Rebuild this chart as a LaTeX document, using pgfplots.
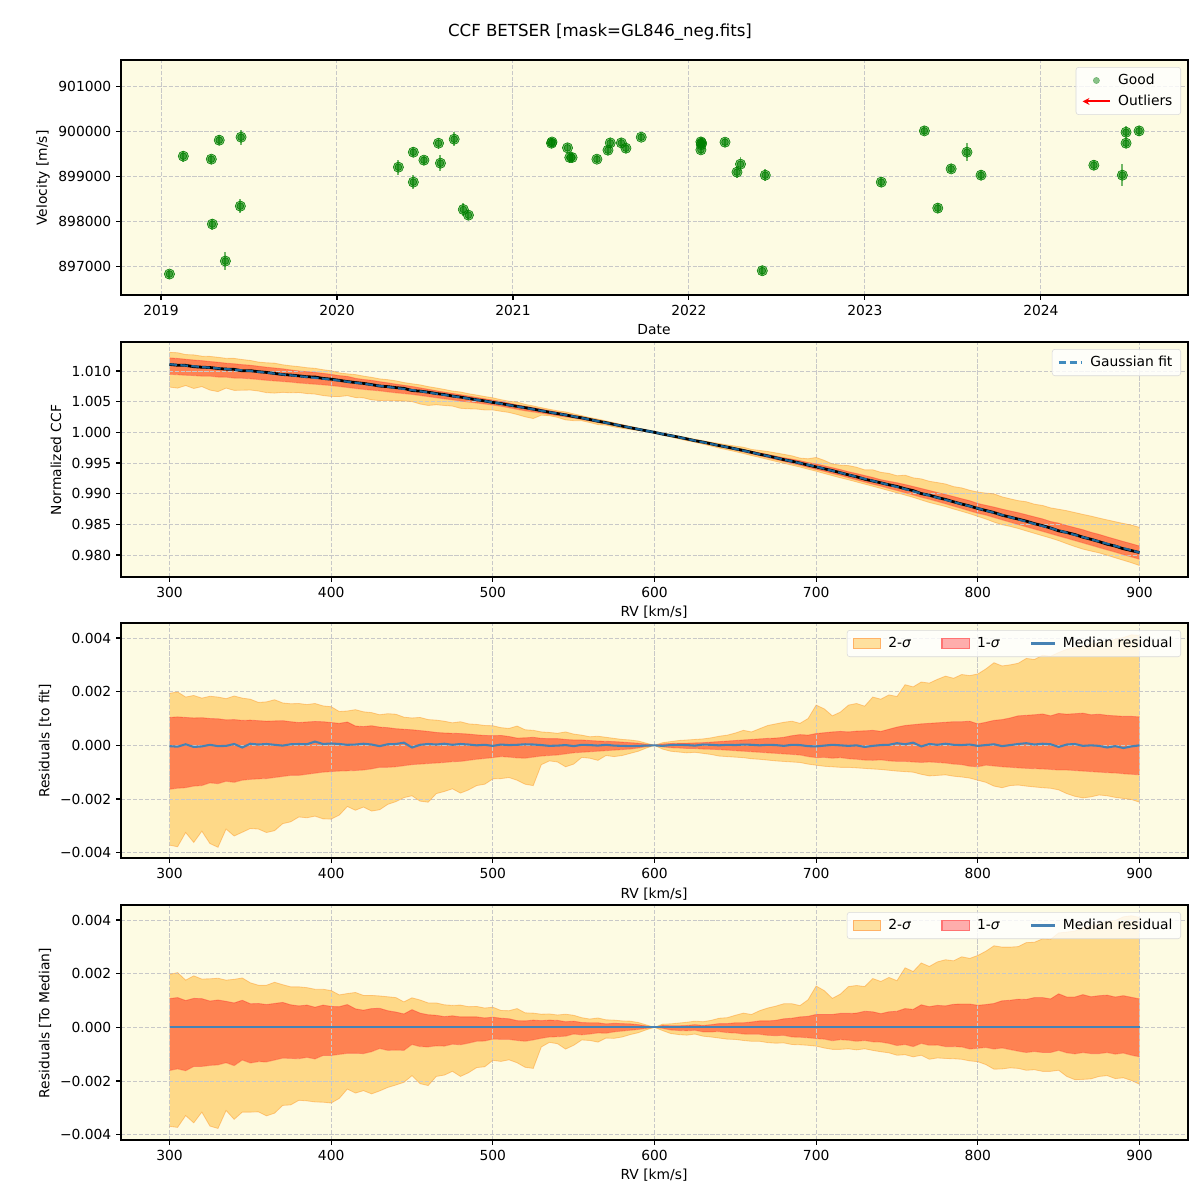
\documentclass[border=0pt]{standalone}
\usepackage{fontspec}
\setmainfont{DejaVu Sans}
\usepackage{pgfplots}
\usepackage{pgfplotstable}
\pgfplotsset{compat=1.18}
\usetikzlibrary{arrows.meta}
\newlength\px \setlength\px{0.01in}
\definecolor{bg}{RGB}{253,251,227}
\definecolor{gridc}{RGB}{200,200,200}
\definecolor{mgreen}{RGB}{0,128,0}
\definecolor{steel}{RGB}{70,130,180}
\definecolor{cblue}{RGB}{31,119,180}
\definecolor{ctwo}{RGB}{254,217,136}
\definecolor{cone}{RGB}{254,130,82}
\definecolor{lgreen}{RGB}{110,180,110}

\pgfplotstableread{
t v e
2019.048 896822 100
2019.127 899444 120
2019.286 899378 100
2019.292 897933 120
2019.331 899800 110
2019.366 897111 200
2019.451 898333 160
2019.455 899867 170
2020.349 899200 170
2020.434 899533 110
2020.434 898867 150
2020.494 899356 100
2020.577 899733 120
2020.588 899289 180
2020.666 899822 160
2020.718 898258 140
2020.747 898133 110
2021.219 899733 100
2021.222 899760 80
2021.310 899630 110
2021.323 899415 100
2021.336 899415 100
2021.477 899378 90
2021.540 899578 100
2021.553 899740 110
2021.616 899740 100
2021.642 899622 100
2021.729 899867 90
2022.068 899762 110
2022.070 899700 100
2022.072 899735 100
2022.068 899585 100
2022.205 899756 100
2022.273 899089 130
2022.293 899267 150
2022.417 896896 100
2022.434 899022 130
2023.093 898867 110
2023.338 900007 100
2023.414 898289 110
2023.490 899162 100
2023.580 899533 200
2023.660 899022 110
2024.301 899244 110
2024.463 899022 250
2024.484 899978 130
2024.484 899733 110
2024.558 900007 110
}\rvdata

\pgfplotstableread{
rv fit hi2 hi1 med lo1 lo2
300 1.01110 1.94 1.04 -0.03 -1.64 -3.72
305 1.01099 1.99 1.06 -0.05 -1.60 -3.78
310 1.01088 1.80 1.04 0.04 -1.58 -3.25
315 1.01077 1.86 1.02 -0.06 -1.52 -3.62
320 1.01066 1.76 1.03 -0.04 -1.50 -3.20
325 1.01055 1.83 1.00 0.02 -1.40 -3.66
330 1.01044 1.80 0.99 -0.03 -1.43 -3.80
335 1.01033 1.74 0.95 -0.02 -1.34 -3.12
340 1.01022 1.84 0.96 0.05 -1.38 -3.38
345 1.01011 1.76 0.93 -0.08 -1.30 -3.24
350 1.01000 1.72 0.94 0.06 -1.27 -3.10
355 1.00986 1.60 0.92 0.03 -1.25 -3.12
360 1.00972 1.62 0.90 0.05 -1.24 -3.25
365 1.00958 1.70 0.91 0.02 -1.20 -3.18
370 1.00944 1.58 0.92 -0.01 -1.16 -2.92
375 1.00930 1.55 0.88 0.04 -1.12 -2.85
380 1.00916 1.56 0.85 0.05 -1.12 -2.67
385 1.00902 1.52 0.87 0.04 -1.08 -2.70
390 1.00888 1.56 0.89 0.14 -1.04 -2.64
395 1.00874 1.47 0.88 0.05 -1.00 -2.74
400 1.00860 1.44 0.85 0.07 -0.98 -2.75
405 1.00843 1.26 0.82 0.05 -0.96 -2.60
410 1.00826 1.28 0.87 0.02 -0.95 -2.28
415 1.00809 1.33 0.72 0.03 -0.94 -2.42
420 1.00792 1.25 0.70 0.06 -0.92 -2.30
425 1.00775 1.22 0.73 0.03 -0.88 -2.45
430 1.00758 1.14 0.68 -0.03 -0.82 -2.40
435 1.00741 1.18 0.66 0.04 -0.82 -2.20
440 1.00724 1.16 0.62 0.05 -0.80 -2.10
445 1.00707 1.05 0.60 0.10 -0.76 -1.95
450 1.00690 1.02 0.58 -0.08 -0.72 -1.88
455 1.00670 1.04 0.55 0.02 -0.70 -2.08
460 1.00650 0.96 0.52 0.05 -0.68 -2.12
465 1.00630 0.94 0.48 0.03 -0.66 -1.80
470 1.00610 0.90 0.46 0.06 -0.64 -1.72
475 1.00590 0.84 0.45 0.02 -0.61 -1.62
480 1.00570 0.88 0.44 0.05 -0.60 -1.78
485 1.00550 0.80 0.42 0.03 -0.56 -1.66
490 1.00530 0.78 0.39 0.00 -0.52 -1.50
495 1.00510 0.74 0.37 0.02 -0.49 -1.45
500 1.00490 0.73 0.36 -0.02 -0.46 -1.25
505 1.00467 0.66 0.37 0.03 -0.42 -1.24
510 1.00444 0.63 0.33 0.01 -0.44 -1.20
515 1.00421 0.72 0.27 0.02 -0.47 -1.30
520 1.00398 0.58 0.28 0.04 -0.48 -1.45
525 1.00375 0.56 0.30 0.03 -0.44 -1.50
530 1.00352 0.50 0.26 0.01 -0.40 -0.72
535 1.00329 0.48 0.25 -0.02 -0.38 -0.58
540 1.00306 0.45 0.25 -0.01 -0.36 -0.62
545 1.00283 0.50 0.22 0.01 -0.32 -0.80
550 1.00260 0.42 0.20 -0.03 -0.28 -0.70
555 1.00234 0.38 0.20 0.02 -0.26 -0.45
560 1.00208 0.32 0.18 0.01 -0.24 -0.48
565 1.00182 0.34 0.16 -0.01 -0.22 -0.56
570 1.00156 0.30 0.15 0.02 -0.20 -0.38
575 1.00130 0.26 0.14 -0.01 -0.18 -0.42
580 1.00104 0.22 0.12 -0.02 -0.16 -0.38
585 1.00078 0.20 0.10 -0.03 -0.14 -0.30
590 1.00052 0.16 0.08 -0.02 -0.10 -0.22
595 1.00026 0.08 0.04 -0.01 -0.05 -0.10
600 1.00000 0.00 0.00 0.00 0.00 0.00
605 0.99973 0.10 0.05 -0.02 -0.06 -0.14
610 0.99946 0.14 0.07 0.01 -0.09 -0.22
615 0.99919 0.18 0.08 0.02 -0.10 -0.25
620 0.99892 0.20 0.08 0.01 -0.12 -0.28
625 0.99865 0.22 0.09 -0.01 -0.12 -0.26
630 0.99838 0.24 0.10 0.03 -0.14 -0.30
635 0.99811 0.28 0.12 0.02 -0.15 -0.34
640 0.99784 0.34 0.14 0.00 -0.16 -0.40
645 0.99757 0.38 0.16 0.02 -0.18 -0.42
650 0.99730 0.46 0.18 0.01 -0.20 -0.44
655 0.99701 0.56 0.20 0.03 -0.22 -0.46
660 0.99672 0.50 0.22 0.02 -0.24 -0.50
665 0.99643 0.62 0.24 0.00 -0.26 -0.52
670 0.99614 0.74 0.26 0.02 -0.28 -0.55
675 0.99585 0.80 0.27 0.01 -0.30 -0.58
680 0.99556 0.86 0.30 -0.02 -0.32 -0.60
685 0.99527 0.90 0.36 0.02 -0.34 -0.62
690 0.99498 0.82 0.40 0.01 -0.36 -0.64
695 0.99469 1.00 0.38 -0.03 -0.42 -0.70
700 0.99440 1.50 0.44 -0.04 -0.46 -0.74
705 0.99407 1.36 0.47 -0.01 -0.45 -0.78
710 0.99374 1.10 0.50 0.02 -0.48 -0.80
715 0.99341 1.24 0.52 0.00 -0.46 -0.82
720 0.99308 1.50 0.50 -0.02 -0.50 -0.82
725 0.99275 1.56 0.53 0.00 -0.52 -0.84
730 0.99242 1.46 0.54 -0.06 -0.55 -0.86
735 0.99209 1.80 0.56 -0.02 -0.56 -0.88
740 0.99176 1.72 0.52 0.01 -0.54 -0.90
745 0.99143 1.88 0.60 0.02 -0.58 -0.93
750 0.99110 1.82 0.68 0.08 -0.60 -0.96
755 0.99075 2.26 0.74 0.04 -0.60 -0.98
760 0.99040 2.18 0.77 0.10 -0.62 -1.00
765 0.99005 2.36 0.80 -0.04 -0.64 -1.08
770 0.98970 2.32 0.82 0.05 -0.62 -1.14
775 0.98935 2.46 0.84 0.02 -0.64 -1.12
780 0.98900 2.58 0.86 0.06 -0.66 -1.10
785 0.98865 2.50 0.88 0.02 -0.70 -1.15
790 0.98830 2.64 0.88 0.01 -0.72 -1.18
795 0.98795 2.60 0.90 0.03 -0.78 -1.22
800 0.98760 2.66 0.80 -0.02 -0.80 -1.30
805 0.98724 2.85 0.86 0.01 -0.74 -1.38
810 0.98688 3.08 0.93 0.04 -0.77 -1.52
815 0.98652 2.96 0.96 -0.03 -0.80 -1.58
820 0.98616 3.00 1.02 0.01 -0.82 -1.50
825 0.98580 3.06 1.10 0.05 -0.84 -1.48
830 0.98544 3.24 1.12 0.08 -0.86 -1.52
835 0.98508 3.20 1.14 0.03 -0.87 -1.55
840 0.98472 3.36 1.17 0.06 -0.88 -1.58
845 0.98436 3.32 1.10 0.04 -0.90 -1.60
850 0.98400 3.46 1.19 -0.06 -0.92 -1.66
855 0.98364 3.58 1.16 0.03 -0.92 -1.80
860 0.98328 3.64 1.18 0.05 -0.94 -1.90
865 0.98292 3.70 1.20 -0.02 -0.96 -1.96
870 0.98256 3.78 1.14 0.00 -0.98 -1.92
875 0.98220 3.82 1.16 -0.02 -1.00 -1.85
880 0.98184 3.88 1.12 -0.08 -1.02 -1.88
885 0.98148 3.95 1.10 -0.03 -1.03 -1.94
890 0.98112 4.02 1.08 -0.10 -1.06 -1.98
895 0.98076 4.12 1.08 -0.04 -1.08 -2.02
900 0.98040 4.10 1.06 0.00 -1.10 -2.12
}\res

\pgfplotsset{
  common/.style={scale only axis, width=1067\px, height=235\px, anchor=north west},
  panel/.style={
    common, scaled ticks=false,
    grid=major, major grid style={gridc, dash pattern=on 3pt off 1.3pt, line width=0.7pt},
    tick align=outside, xtick pos=bottom, ytick pos=left,
    major tick length=3.5pt, tick style={black, line width=0.8pt},
    axis line style={line width=0.8pt},
    tick label style={font=\fontsize{10}{12}\selectfont},
    /pgf/number format/assume math mode=true,
    legend style={font=\fontsize{10}{12}\selectfont, draw=gray!30, rounded corners=2pt,
      fill=white, fill opacity=0.8, text opacity=1, draw opacity=1,
      at={(1,1)}, anchor=north east, xshift=-7\px, yshift=-7\px,
      inner xsep=4pt, inner ysep=3pt, row sep=2pt,
      /tikz/every odd column/.append style={column sep=3pt}},
    legend cell align=left,
  },
  base/.style={common, axis background/.style={fill=bg}, ticks=none,
    axis line style={draw=none}, stack plots=y, xmin=270, xmax=930},
  rvpanel/.style={
    panel, xmin=270, xmax=930,
    xtick={300,400,500,600,700,800,900},
    xticklabels={300,400,500,600,700,800,900},
  },
  respanel/.style={
    rvpanel, ymin=-4.2, ymax=4.56,
    ytick={-4,-2,0,2,4},
    yticklabels={−0.004,−0.002,0.000,0.002,0.004},
    legend columns=3,
    legend style={/tikz/every even column/.append style={column sep=20pt}},
  },
  bandimg/.style 2 args={legend image code/.code={%
      \path[sharp corners, draw=#2, fill=#1, line width=0.8pt] (0pt,-3.5pt) rectangle (20pt,3.5pt);}},
  edge2/.style={orange, opacity=0.35, line width=0.6pt},
  edge1/.style={red, opacity=0.3, line width=0.6pt},
}

\begin{document}
\begin{tikzpicture}
\path[use as bounding box] (0,0) rectangle (1200\px,-1200\px);

% ---------- Panel 1 ----------
\begin{axis}[panel, axis background/.style={fill=bg}, at={(121\px,-60\px)},
  xmin=2018.7727, xmax=2024.836, ymin=896356, ymax=901584,
  xtick={2019,2020,2021,2022,2023,2024},
  xticklabels={2019,2020,2021,2022,2023,2024},
  ytick={897000,898000,899000,900000,901000},
  yticklabels={897000,898000,899000,900000,901000},
]
\addplot[forget plot, only marks, mark=*, mark size=3.7pt, mgreen,
  mark options={fill=mgreen, fill opacity=0.5, draw=none},
  error bars/.cd, y dir=both, y explicit,
  error bar style={mgreen, opacity=0.55, line width=1.4pt}, error mark=none]
  table[x=t, y=v, y error=e]{\rvdata};
\addplot[forget plot, only marks, mark=*, mark size=2.4pt, mgreen,
  mark options={fill=mgreen, fill opacity=0.5, draw=none}]
  table[x=t, y=v]{\rvdata};
\addlegendimage{legend image code/.code={\fill[lgreen] (10pt,0pt) circle (2.2pt);}}
\addlegendentry{Good}
\addlegendimage{legend image code/.code={\draw[red, line width=1.5pt, sharp corners, -{Stealth[length=5pt,width=5pt]}] (20pt,0pt) -- (0pt,0pt);}}
\addlegendentry{Outliers}
\end{axis}

% ---------- Panel 2 ----------
\begin{axis}[base, at={(121\px,-342\px)}, ymin=0.97641, ymax=1.01473]
\addplot[draw=none] table[x=rv, y expr=\thisrow{fit}+\thisrow{lo2}/1000]{\res};
\addplot[fill=ctwo, draw=none] table[x=rv, y expr=(\thisrow{lo1}-\thisrow{lo2})/1000]{\res} \closedcycle;
\addplot[fill=cone, draw=none] table[x=rv, y expr=(\thisrow{hi1}-\thisrow{lo1})/1000]{\res} \closedcycle;
\addplot[fill=ctwo, draw=none] table[x=rv, y expr=(\thisrow{hi2}-\thisrow{hi1})/1000]{\res} \closedcycle;
\end{axis}
\begin{axis}[rvpanel, at={(121\px,-342\px)},
  ymin=0.97641, ymax=1.01473,
  ytick={0.980,0.985,0.990,0.995,1.000,1.005,1.010},
  yticklabels={0.980,0.985,0.990,0.995,1.000,1.005,1.010},
]
\addplot[forget plot, edge2] table[x=rv, y expr=\thisrow{fit}+\thisrow{hi2}/1000]{\res};
\addplot[forget plot, edge2] table[x=rv, y expr=\thisrow{fit}+\thisrow{lo2}/1000]{\res};
\addplot[forget plot, edge1] table[x=rv, y expr=\thisrow{fit}+\thisrow{hi1}/1000]{\res};
\addplot[forget plot, edge1] table[x=rv, y expr=\thisrow{fit}+\thisrow{lo1}/1000]{\res};
\addplot[forget plot, black, line width=2pt] table[x=rv, y expr=\thisrow{fit}+\thisrow{med}/1000]{\res};
\addplot[cblue, line width=1.5pt, dash pattern=on 5.5pt off 2.4pt, draw opacity=0.85] table[x=rv, y=fit]{\res};
\addlegendentry{Gaussian fit}
\end{axis}

% ---------- Panel 3 ----------
\begin{axis}[base, at={(121\px,-623\px)}, ymin=-4.2, ymax=4.56]
\addplot[draw=none] table[x=rv, y=lo2]{\res};
\addplot[fill=ctwo, draw=none] table[x=rv, y expr=\thisrow{lo1}-\thisrow{lo2}]{\res} \closedcycle;
\addplot[fill=cone, draw=none] table[x=rv, y expr=\thisrow{hi1}-\thisrow{lo1}]{\res} \closedcycle;
\addplot[fill=ctwo, draw=none] table[x=rv, y expr=\thisrow{hi2}-\thisrow{hi1}]{\res} \closedcycle;
\end{axis}
\begin{axis}[respanel, at={(121\px,-623\px)}]
\addplot[forget plot, edge2] table[x=rv, y=hi2]{\res};
\addplot[forget plot, edge2] table[x=rv, y=lo2]{\res};
\addplot[forget plot, edge1] table[x=rv, y=hi1]{\res};
\addplot[forget plot, edge1] table[x=rv, y=lo1]{\res};
\addplot[forget plot, steel, line width=1.5pt] table[x=rv, y=med]{\res};
\addlegendimage{bandimg={ctwo}{orange!60}}
\addlegendentry{2-{\itshape σ}}
\addlegendimage{bandimg={red!40}{red!55}}
\addlegendentry{1-{\itshape σ}}
\addlegendimage{steel, line width=1.5pt, sharp corners}
\addlegendentry{Median residual}
\end{axis}

% ---------- Panel 4 ----------
\begin{axis}[base, at={(121\px,-905\px)}, ymin=-4.2, ymax=4.56]
\addplot[draw=none] table[x=rv, y expr=\thisrow{lo2}-\thisrow{med}]{\res};
\addplot[fill=ctwo, draw=none] table[x=rv, y expr=\thisrow{lo1}-\thisrow{lo2}]{\res} \closedcycle;
\addplot[fill=cone, draw=none] table[x=rv, y expr=\thisrow{hi1}-\thisrow{lo1}]{\res} \closedcycle;
\addplot[fill=ctwo, draw=none] table[x=rv, y expr=\thisrow{hi2}-\thisrow{hi1}]{\res} \closedcycle;
\end{axis}
\begin{axis}[respanel, at={(121\px,-905\px)}]
\addplot[forget plot, edge2] table[x=rv, y expr=\thisrow{hi2}-\thisrow{med}]{\res};
\addplot[forget plot, edge2] table[x=rv, y expr=\thisrow{lo2}-\thisrow{med}]{\res};
\addplot[forget plot, edge1] table[x=rv, y expr=\thisrow{hi1}-\thisrow{med}]{\res};
\addplot[forget plot, edge1] table[x=rv, y expr=\thisrow{lo1}-\thisrow{med}]{\res};
\addplot[forget plot, steel, line width=1.5pt] table[x=rv, y expr=0*\thisrow{med}]{\res};
\addlegendimage{bandimg={ctwo}{orange!60}}
\addlegendentry{2-{\itshape σ}}
\addlegendimage{bandimg={red!40}{red!55}}
\addlegendentry{1-{\itshape σ}}
\addlegendimage{steel, line width=1.5pt, sharp corners}
\addlegendentry{Median residual}
\end{axis}

% ---------- Title and labels ----------
\node[font=\fontsize{12}{14}\selectfont] at (600\px,-32\px) {CCF BETSER [mask=GL846\_neg.fits]};
\begin{scope}[every node/.style={font=\fontsize{10}{12}\selectfont}]
\node[rotate=90] at (43\px,-178\px) {Velocity [m/s]};
\node[rotate=90] at (56\px,-460\px) {Normalized CCF};
\node[rotate=90] at (45\px,-741\px) {Residuals [to fit]};
\node[rotate=90] at (45\px,-1023\px) {Residuals [To Median]};
\node at (654\px,-330\px) {Date};
\node at (654\px,-612\px) {RV [km/s]};
\node at (654\px,-894\px) {RV [km/s]};
\node at (654\px,-1175\px) {RV [km/s]};
\end{scope}
\end{tikzpicture}
\end{document}
